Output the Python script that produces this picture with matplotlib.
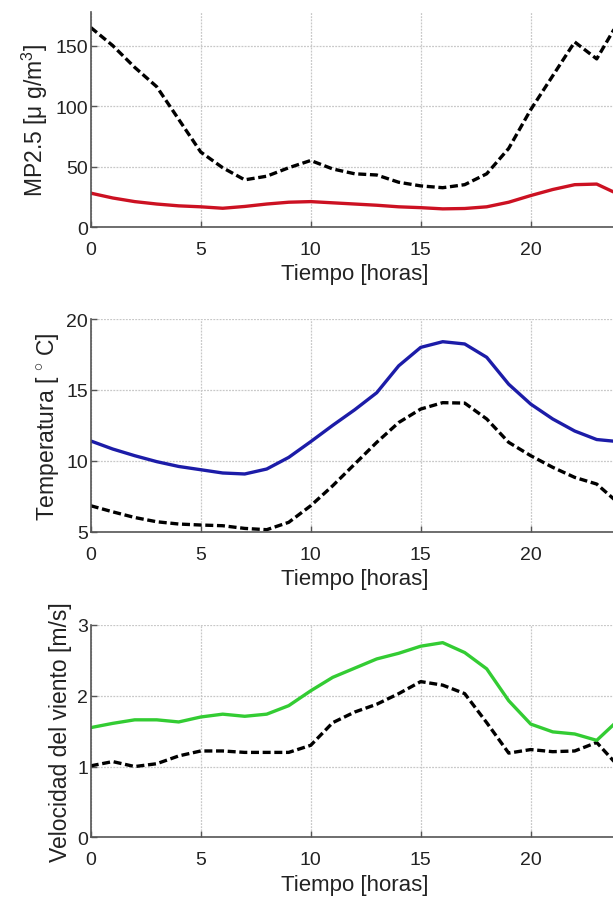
import matplotlib
matplotlib.use('Agg')
import matplotlib.pyplot as plt

plt.rcParams['font.family'] = ['Liberation Sans', 'DejaVu Sans']
plt.rcParams['mathtext.fontset'] = 'custom'
plt.rcParams['mathtext.rm'] = 'Liberation Sans'
plt.rcParams['mathtext.it'] = 'Liberation Sans'

# hourly profiles, 0..24 h
horas = list(range(25))

mp25_media = [28, 24, 21, 19, 17.5, 16.7, 15.5, 17, 19, 20.5, 21, 20, 19, 18, 16.7,
              16, 15, 15.3, 16.7, 20.5, 26, 31, 35, 35.5, 27]
mp25_max = [165, 150, 132, 116, 89, 62, 49, 39, 42, 49, 55, 48, 44, 43, 37,
            34, 32.5, 35, 44, 65, 97, 125, 153, 139, 170]

temp_media = [11.4, 10.83, 10.36, 9.94, 9.6, 9.37, 9.14, 9.07, 9.42, 10.24, 11.35,
              12.5, 13.6, 14.8, 16.7, 18.0, 18.4, 18.24, 17.3, 15.4, 14.0, 12.95,
              12.1, 11.5, 11.35]
temp_min = [6.83, 6.4, 6.0, 5.7, 5.54, 5.47, 5.42, 5.23, 5.14, 5.66, 6.83, 8.24,
            9.77, 11.3, 12.7, 13.65, 14.1, 14.07, 12.95, 11.3, 10.36, 9.54, 8.83,
            8.36, 7.0]

viento_media = [1.55, 1.61, 1.66, 1.66, 1.63, 1.70, 1.74, 1.71, 1.74, 1.86, 2.07,
                2.26, 2.39, 2.52, 2.60, 2.70, 2.75, 2.61, 2.38, 1.93, 1.60, 1.49,
                1.46, 1.37, 1.66]
viento_min = [1.01, 1.07, 1.0, 1.04, 1.15, 1.22, 1.22, 1.2, 1.2, 1.2, 1.3, 1.62,
              1.77, 1.88, 2.03, 2.2, 2.15, 2.03, 1.62, 1.19, 1.24, 1.21, 1.22,
              1.34, 1.0]

paneles = [
    (mp25_media, mp25_max, '#cc1122', (0, 178), [0, 50, 100, 150],
     'MP2.5 [\u03bc g/m$^{3}$]', [0.148, 0.7475, 0.8613, 0.2384]),
    (temp_media, temp_min, '#1c1ca8', (5, 20), [5, 10, 15, 20],
     'Temperatura [ $^{\\circ}$ C]', [0.148, 0.4101, 0.8613, 0.2355]),
    (viento_media, viento_min, '#33cc33', (0, 3), [0, 1, 2, 3],
     'Velocidad del viento [m/s]', [0.148, 0.0716, 0.8613, 0.2352]),
]

fig = plt.figure(figsize=(6.13, 9.03), dpi=100)

for media, extremo, color, ylim, yticks, ylabel, pos in paneles:
    ax = fig.add_axes(pos)
    ax.plot(horas, extremo, color='black', lw=2.4, dashes=(2.4, 1.1))
    ax.plot(horas, media, color=color, lw=2.4)
    ax.set_xlim(0, 24)
    ax.set_ylim(*ylim)
    ax.set_xticks([0, 5, 10, 15, 20])
    ax.set_yticks(yticks)
    ax.grid(True, color='#c8c8c8', lw=0.9, linestyle=(0, (1.5, 1)))
    ax.set_axisbelow(True)
    ax.spines['top'].set_visible(False)
    ax.spines['right'].set_visible(False)
    for s in ['left', 'bottom']:
        ax.spines[s].set_color('#555555')
        ax.spines[s].set_linewidth(1.2)
    ax.tick_params(axis='both', direction='in', length=4, width=1,
                   colors='#555555', labelcolor='#222222', labelsize=14)
    ax.tick_params(axis='x', pad=10)
    ax.tick_params(axis='y', pad=2)
    ax.set_xlabel('Tiempo [horas]', fontsize=16, color='#222222', labelpad=4)
    ax.set_ylabel(ylabel, fontsize=16.5, color='#222222', labelpad=4)

fig.savefig('out.png', dpi=100)
